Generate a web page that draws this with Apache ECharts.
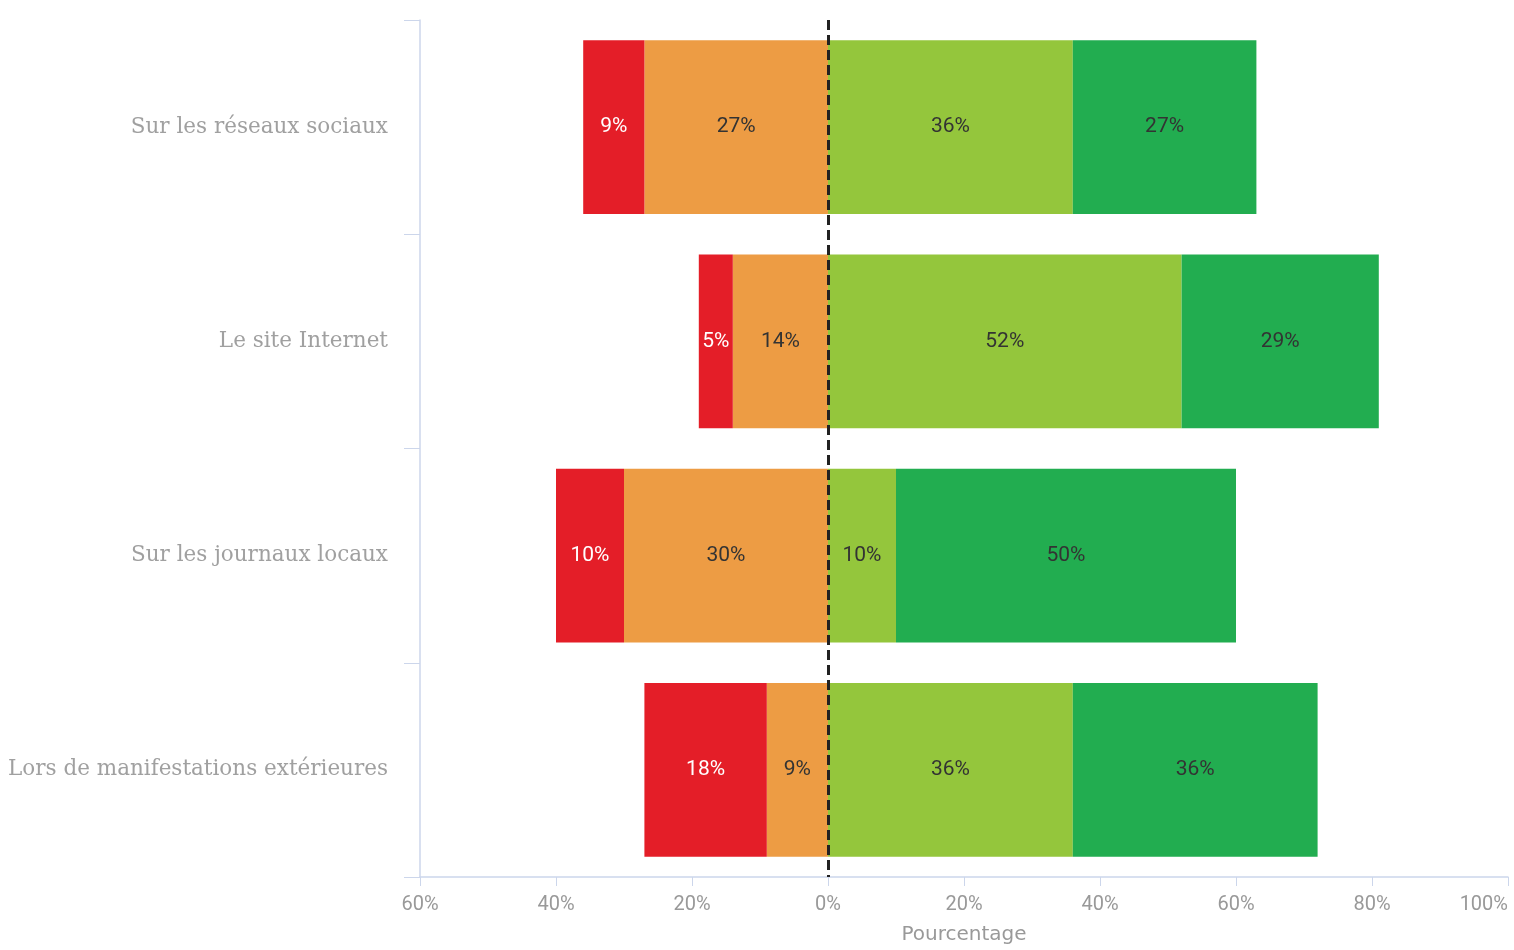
<!DOCTYPE html>
<html>
<head>
<meta charset="utf-8">
<script src="https://cdn.jsdelivr.net/npm/echarts@6/dist/echarts.min.js"></script>
<style>
html,body{margin:0;padding:0;background:#fff;}
#chart{width:1514px;height:950px;}
</style>
</head>
<body>
<div id="chart"></div>
<script>
const categories = ['Sur les réseaux sociaux', 'Le site Internet', 'Sur les journaux locaux', 'Lors de manifestations extérieures'];
const tresInsatisfait = [-9, -5, -10, -18];
const insatisfait = [-27, -14, -30, -9];
const satisfait = [36, 52, 10, 36];
const tresSatisfait = [27, 29, 50, 36];
const xTicks = { min: -60, max: 100, interval: 20 };
const axisName = 'Pourcentage';

const chart = echarts.init(document.getElementById('chart'));
const pct = v => Math.abs(v) + '%';
function barSeries(name, data, color, labelColor) {
  return {
    name: name,
    type: 'bar',
    stack: 'total',
    data: data,
    barCategoryGap: '19%',
    itemStyle: { color: color },
    label: {
      show: true,
      position: 'inside',
      formatter: p => pct(p.value),
      color: labelColor,
      fontFamily: 'Roboto',
      fontSize: 21
    },
    emphasis: { disabled: true }
  };
}
const s2 = barSeries('Insatisfait', insatisfait, '#ED9C44', '#333');
s2.markLine = {
  symbol: 'none',
  silent: true,
  label: { show: false },
  lineStyle: { color: '#222', type: [10, 5], width: 3 },
  data: [{ xAxis: 0 }]
};
const option = {
  animation: false,
  backgroundColor: '#fff',
  grid: { left: 420, right: 6, top: 20, bottom: 67 },
  xAxis: {
    type: 'value',
    min: xTicks.min,
    max: xTicks.max,
    interval: xTicks.interval,
    name: axisName,
    nameLocation: 'middle',
    nameGap: 48,
    nameTextStyle: { color: '#999', fontSize: 20, fontFamily: 'DejaVu Sans' },
    axisLine: { show: true, lineStyle: { color: '#ccd6eb', width: 1.5 } },
    axisTick: { show: true, length: 9, lineStyle: { color: '#ccd6eb' } },
    axisLabel: { formatter: v => Math.abs(v) + '%', color: '#999', fontSize: 20, fontFamily: 'Roboto', margin: 18, alignMaxLabel: 'right' },
    splitLine: { show: false }
  },
  yAxis: {
    type: 'category',
    data: categories,
    inverse: true,
    axisLine: { show: true, onZero: false, lineStyle: { color: '#ccd6eb', width: 1.5 } },
    axisTick: { show: true, length: 16, lineStyle: { color: '#ccd6eb' } },
    axisLabel: { color: '#a0a0a0', fontSize: 21.5, fontFamily: 'DejaVu Serif', margin: 32 },
    splitLine: { show: false }
  },
  series: [
    s2,
    barSeries('Très insatisfait', tresInsatisfait, '#E41E28', '#fff'),
    barSeries('Satisfait', satisfait, '#94C63C', '#333'),
    barSeries('Très satisfait', tresSatisfait, '#22AD50', '#333')
  ]
};
chart.setOption(option);
</script>
</body>
</html>
